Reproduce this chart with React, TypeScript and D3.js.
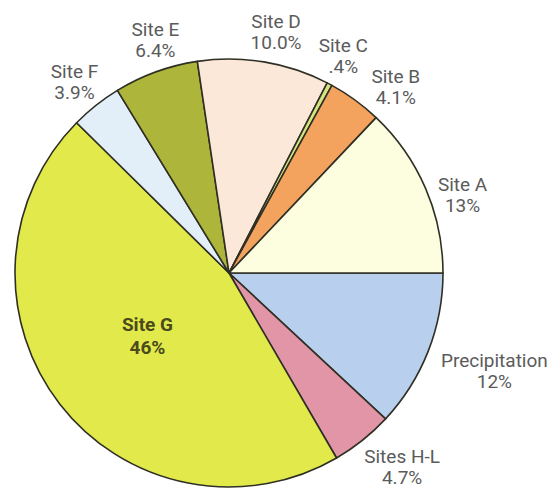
import React from 'react';
import * as d3 from 'd3';

const names = ['Precipitation', 'Sites H-L', 'Site G', 'Site F', 'Site E', 'Site D', 'Site C', 'Site B', 'Site A'];
const values = [12, 4.7, 46, 3.9, 6.4, 10.0, 0.4, 4.1, 13];
const valueLabels = ['12%', '4.7%', '46%', '3.9%', '6.4%', '10.0%', '.4%', '4.1%', '13%'];
const colors = ['#b9cfee', '#e295a7', '#e1ea4a', '#e2eef8', '#adb63a', '#fce8d8', '#d6e480', '#f4a35f', '#fdfde0'];

const width = 550;
const height = 491;
const cx = 229;
const cy = 273;
const radius = 214;

// label nudges (px) relative to a point just outside the slice
const nudge: Record<string, [number, number]> = {
  'Precipitation': [43, 6],
  'Sites H-L': [24, 3],
  'Site G': [3, -8],
  'Site F': [-6, -8],
  'Site E': [8, -12],
  'Site D': [8, -9],
  'Site C': [2, -10],
  'Site B': [26, 3],
  'Site A': [14, 12],
};

const App = () => {
  const pie = d3.pie<number>()
    .sort(null)
    .startAngle(Math.PI / 2)
    .endAngle(Math.PI / 2 + 2 * Math.PI);
  const arcs = pie(values);

  const arc = d3.arc<d3.PieArcDatum<number>>()
    .innerRadius(0)
    .outerRadius(radius);
  const outerLabel = d3.arc<d3.PieArcDatum<number>>()
    .innerRadius(radius + 25)
    .outerRadius(radius + 25);
  const innerLabel = d3.arc<d3.PieArcDatum<number>>()
    .innerRadius(radius * 0.5)
    .outerRadius(radius * 0.5);

  return (
    <svg width={width} height={height} style={{ position: 'absolute', left: 0, top: 0, background: '#fff' }}>
      <g transform={`translate(${cx},${cy})`}>
        {arcs.map((a, i) => (
          <path key={names[i]} d={arc(a) || ''} fill={colors[i]} stroke="#2f2f24" strokeWidth={1.6} strokeLinejoin="round" />
        ))}
        {arcs.map((a, i) => {
          const inside = names[i] === 'Site G';
          const [x, y] = inside ? innerLabel.centroid(a) : outerLabel.centroid(a);
          const [dx, dy] = nudge[names[i]];
          return (
            <text
              key={'l' + names[i]}
              x={x + dx}
              y={y + dy}
              textAnchor="middle"
              fontFamily="Roboto, 'Noto Sans', sans-serif"
              fontSize={19}
              fontWeight={inside ? 'bold' : 'normal'}
              fill={inside ? '#4a4a1c' : '#5b5b5b'}
            >
              <tspan x={x + dx}>{names[i]}</tspan>
              <tspan x={x + dx} dy={inside ? 23 : 21}>{valueLabels[i]}</tspan>
            </text>
          );
        })}
      </g>
    </svg>
  );
};

export default App;
